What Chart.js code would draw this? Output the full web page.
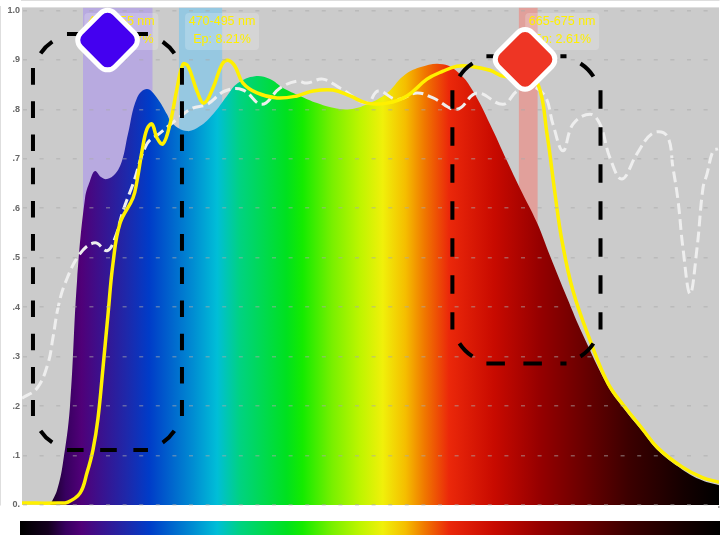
<!DOCTYPE html>
<html>
<head>
<meta charset="utf-8">
<title>Spectrum</title>
<script src="https://cdn.jsdelivr.net/npm/chart.js@4"></script>
<style>
  html, body { margin: 0; padding: 0; background: #fff; }
  canvas { display: block; filter: blur(0.7px); }
</style>
</head>
<body>
<canvas id="myChart" width="725" height="535"></canvas>
<script>
// spectrum shape
const spectrumNm = [396.1, 400.1, 403.5, 407.5, 411.6, 416.2, 419, 421.9, 425.3, 428.8, 433.4, 437.4, 440.8, 446, 451.7, 457.5, 463.2, 466.1, 474.7, 482.2, 489.6, 497.6, 503.9, 513.7, 522.3, 529.8, 539.5, 549.3, 558.5, 568.2, 578, 589.5, 598.7, 608.4, 621.6, 631.4, 638.8, 648.6, 658.3, 665.8, 675.5, 683, 692.8, 702, 716.3, 726, 735.8, 745, 758.8, 770.2, 780]
const spectrumValues = [0, 0.03, 0.085, 0.198, 0.454, 0.621, 0.655, 0.675, 0.663, 0.659, 0.669, 0.696, 0.75, 0.823, 0.841, 0.823, 0.79, 0.772, 0.756, 0.766, 0.79, 0.827, 0.853, 0.867, 0.861, 0.843, 0.827, 0.8125, 0.803, 0.8, 0.81, 0.833, 0.867, 0.885, 0.891, 0.871, 0.837, 0.77, 0.696, 0.64, 0.571, 0.504, 0.419, 0.343, 0.24, 0.192, 0.15, 0.11, 0.072, 0.05, 0.04]

// yellow curve
const yellowNm = [380, 400.7, 406.4, 413.3, 417.3, 420.7, 423.6, 426.5, 429.4, 432.2, 436.2, 443.7, 446, 448.9, 451.7, 454.6, 457.5, 460.9, 464.9, 469, 472.4, 475.3, 480.4, 484.4, 489.6, 494.8, 498.2, 502.2, 506.8, 514.9, 526.3, 537.8, 547, 558.5, 568.2, 578, 589.5, 600.9, 612.4, 621.6, 629.6, 637.1, 648.6, 656, 668.7, 676.1, 681.3, 685.9, 689.9, 696.2, 706, 716.3, 726, 735.8, 745, 758.8, 770.2, 780]
const yellowValues = [0.004, 0.004, 0.006, 0.024, 0.065, 0.111, 0.175, 0.278, 0.387, 0.488, 0.569, 0.621, 0.655, 0.716, 0.76, 0.77, 0.742, 0.73, 0.77, 0.843, 0.891, 0.887, 0.837, 0.8125, 0.843, 0.891, 0.899, 0.887, 0.853, 0.833, 0.823, 0.827, 0.837, 0.839, 0.827, 0.8125, 0.8125, 0.827, 0.861, 0.877, 0.887, 0.887, 0.879, 0.867, 0.861, 0.851, 0.75, 0.629, 0.534, 0.433, 0.333, 0.246, 0.198, 0.155, 0.115, 0.077, 0.056, 0.046]

// white dashed curve
const whiteNm = [380, 388.6, 394.9, 397.8, 400.7, 404.7, 413.3, 421.9, 428.8, 433.4, 438, 443.7, 451.7, 459.2, 469, 477.6, 486.2, 496.5, 506.8, 517.7, 528.1, 537.8, 543.6, 552.7, 562.5, 578, 584.3, 595.2, 606.7, 615.9, 629.6, 641.1, 656, 664.1, 671.5, 680.1, 684.7, 690.5, 696.2, 706, 711.7, 717.4, 724.3, 732.9, 742.1, 750.2, 753.6, 756.5, 759.3, 763.4, 767.4, 770.8, 773.1, 776.6, 779.4]
const whiteValues = [0.216, 0.236, 0.286, 0.339, 0.399, 0.448, 0.508, 0.53, 0.514, 0.54, 0.595, 0.649, 0.73, 0.752, 0.78, 0.802, 0.81, 0.837, 0.839, 0.81, 0.843, 0.857, 0.853, 0.861, 0.843, 0.8125, 0.837, 0.82, 0.833, 0.823, 0.8, 0.833, 0.81, 0.837, 0.847, 0.827, 0.77, 0.716, 0.77, 0.79, 0.77, 0.702, 0.659, 0.71, 0.752, 0.746, 0.681, 0.615, 0.52, 0.427, 0.52, 0.641, 0.669, 0.716, 0.72]

// highlighted bands
const bandStart = [415, 470, 665]
const bandEnd = [455, 495, 676]
const bandColors = ['#b8aae0', '#96c8e1', '#e1a09b']
const bandLabels = ['415-455 nm', '470-495 nm', '665-675 nm']
const bandShares = ['Ep: 13.37%', 'Ep: 8.21%', 'Ep: 2.61%']
const labelCenterNm = [437, 494.8, 690]

// dashed boxes, in axis units
const boxLeft = [386.3, 627]
const boxRight = [471.8, 712]
const boxTop = [0.952, 0.907]
const boxBottom = [0.111, 0.286]
const boxDash = [16.6, 18.5]

// diamonds
const markerNm = [429.1, 668.7]
const markerValues = [0.94, 0.901]
const markerColors = ['#4400f0', '#ee3524']

const xTickLabels = { 400: '400', 500: '500', 600: '600', 700: '700' }
const yTickLabels = ['0.', '.1', '.2', '.3', '.4', '.5', '.6', '.7', '.8', '.9', '1.0']

// colours along the wavelength axis
const stopNm = [380, 395, 405, 414, 440, 453, 478, 492, 505, 532, 541, 558, 574, 587, 600, 611, 625, 651, 677, 700, 728, 760, 780]
const stopColors = ['#000000', '#14001e', '#37005f', '#500078', '#1e28aa', '#003cc8', '#008cd2', '#00bed7', '#00d282', '#00e11e', '#14eb00', '#78f000', '#bef500', '#f0f00a', '#f5be00', '#f07800', '#eb280a', '#c80a00', '#960000', '#6e0000', '#3c0000', '#140000', '#000000']

function to_points(xs, ys) {
    return xs.map((x, i) => ({ x: x, y: ys[i] }))
}

function spectrum_gradient(ctx, x0, x1) {
    let grad = ctx.createLinearGradient(x0, 0, x1, 0)
    stopNm.forEach((nm, i) => grad.addColorStop((nm - 380) / 400, stopColors[i]))
    return grad
}

// each side starts a fresh dash pattern, each corner holds one centred dash
function dashed_box(ctx, left, top, right, bottom, dash) {
    const inset = 34
    const r = 44
    const arc = Math.PI * r / 2
    const gap = (arc - dash) / 2
    ctx.setLineDash([dash, dash])
    ctx.beginPath()
    ctx.moveTo(left, top + inset); ctx.lineTo(left, bottom - inset)
    ctx.moveTo(right, top + inset); ctx.lineTo(right, bottom - inset)
    ctx.moveTo(left + inset, top); ctx.lineTo(right - inset, top)
    ctx.moveTo(left + inset, bottom); ctx.lineTo(right - inset, bottom)
    ctx.stroke()
    ctx.setLineDash([0, gap, dash, gap + 1])
    const corners = [[left + r, top + r, Math.PI], [right - r, top + r, Math.PI * 1.5], [right - r, bottom - r, 0], [left + r, bottom - r, Math.PI / 2]]
    corners.forEach(c => {
        ctx.beginPath()
        ctx.arc(c[0], c[1], r, c[2], c[2] + Math.PI / 2)
        ctx.stroke()
    })
    ctx.setLineDash([])
}

let bandSets = bandStart.map((start, i) => ({
    data: [{ x: start, y: 1.006 }, { x: bandEnd[i], y: 1.006 }],
    borderWidth: 0,
    pointRadius: 0,
    fill: 'origin',
    backgroundColor: bandColors[i],
    order: 5
}))

const overlay = {
    id: 'overlay',
    beforeDraw(chart) {
        const { ctx, chartArea: a } = chart
        ctx.save()
        ctx.fillStyle = '#cbcbcb'
        ctx.fillRect(a.left, a.top, a.right - a.left, a.bottom - a.top)
        ctx.restore()
    },
    afterDraw(chart) {
        const { ctx, chartArea: a, scales: { x, y } } = chart
        ctx.save()

        // colour bar under the axis
        ctx.fillStyle = spectrum_gradient(ctx, a.left, a.right)
        ctx.fillRect(a.left - 2, 521, a.right - a.left + 3, 14)

        // band labels
        ctx.textAlign = 'center'
        ctx.textBaseline = 'middle'
        ctx.font = '12.5px "Liberation Sans", sans-serif'
        bandLabels.forEach((label, i) => {
            let cx = x.getPixelForValue(labelCenterNm[i])
            ctx.fillStyle = 'rgba(255,255,255,0.2)'
            ctx.beginPath()
            ctx.roundRect(cx - 37, 13, 74, 37, 4)
            ctx.fill()
            ctx.fillStyle = '#fff000'
            ctx.fillText(label, cx, 22)
            ctx.fillText(bandShares[i], cx, 40)
        })

        // dashed boxes
        ctx.strokeStyle = '#000'
        ctx.lineWidth = 4
        boxLeft.forEach((left, i) => {
            dashed_box(ctx, x.getPixelForValue(left), y.getPixelForValue(boxTop[i]), x.getPixelForValue(boxRight[i]), y.getPixelForValue(boxBottom[i]), boxDash[i])
        })

        // diamonds
        markerNm.forEach((nm, i) => {
            ctx.save()
            ctx.translate(x.getPixelForValue(nm), y.getPixelForValue(markerValues[i]))
            ctx.rotate(Math.PI / 4)
            ctx.beginPath()
            ctx.roundRect(-24, -24, 48, 48, 10)
            ctx.fillStyle = markerColors[i]
            ctx.fill()
            ctx.strokeStyle = '#fff'
            ctx.lineWidth = 5
            ctx.stroke()
            ctx.restore()
        })
        ctx.restore()
    }
}

let ctx = document.querySelector('#myChart').getContext('2d')
let myChart = new Chart(ctx, {
    type: 'line',
    data: {
        datasets: [
            ...bandSets,
            {
                data: to_points(spectrumNm, spectrumValues),
                borderWidth: 0,
                pointRadius: 0,
                tension: 0.4,
                fill: 'origin',
                backgroundColor: (c) => {
                    let area = c.chart.chartArea
                    if (!area) return '#000'
                    return spectrum_gradient(c.chart.ctx, area.left, area.right)
                },
                order: 4
            },
            {
                data: to_points(whiteNm, whiteValues),
                borderColor: '#eeeeee',
                borderWidth: 3,
                borderDash: [11, 5],
                pointRadius: 0,
                tension: 0.4,
                fill: false,
                order: 3
            },
            {
                data: to_points(yellowNm, yellowValues),
                borderColor: '#fff000',
                borderWidth: 3.5,
                pointRadius: 0,
                tension: 0.4,
                fill: false,
                order: 2
            }
        ]
    },
    options: {
        responsive: false,
        animation: false,
        layout: { padding: { top: 6, right: 6, left: 0, bottom: 0 } },
        plugins: { legend: { display: false }, tooltip: { enabled: false } },
        scales: {
            x: {
                type: 'linear',
                min: 380,
                max: 780,
                afterFit: (s) => { s.height = 30 },
                ticks: {
                    stepSize: 50,
                    maxRotation: 0,
                    autoSkip: false,
                    color: '#666',
                    font: { size: 9 },
                    padding: 1,
                    callback: (v) => xTickLabels[v] || ''
                },
                grid: {
                    z: 1,
                    tickLength: 3,
                    tickColor: (c) => (c.tick.value % 100 === 0 || c.tick.value === 780) ? '#aaa' : 'transparent',
                    color: (c) => {
                        if (c.tick.value % 100 === 0) return 'rgba(140,140,140,0.45)'
                        if (c.tick.value % 50 === 0) return 'rgba(170,170,170,0.5)'
                        return 'transparent'
                    },
                    lineWidth: (c) => c.tick.value % 100 === 0 ? 1 : 1.5
                },
                border: {
                    color: '#dedede',
                    width: 2,
                    dash: (c) => (c.tick && c.tick.value % 100 !== 0) ? [3, 5.5] : []
                }
            },
            y: {
                min: 0,
                max: 1.006,
                afterFit: (s) => { s.width = 22 },
                afterBuildTicks: (s) => { s.ticks = yTickLabels.map((t, i) => ({ value: i / 10 })) },
                ticks: {
                    color: '#666',
                    font: { size: 9, weight: 'bold' },
                    padding: 2,
                    callback: (v) => yTickLabels[Math.round(v * 10)]
                },
                grid: {
                    z: 1,
                    drawTicks: false,
                    color: 'rgba(170,170,170,0.5)',
                    lineWidth: 1.5
                },
                border: {
                    color: '#dedede',
                    width: 2,
                    dash: [4, 12.6]
                }
            }
        }
    },
    plugins: [overlay]
})
</script>
</body>
</html>
